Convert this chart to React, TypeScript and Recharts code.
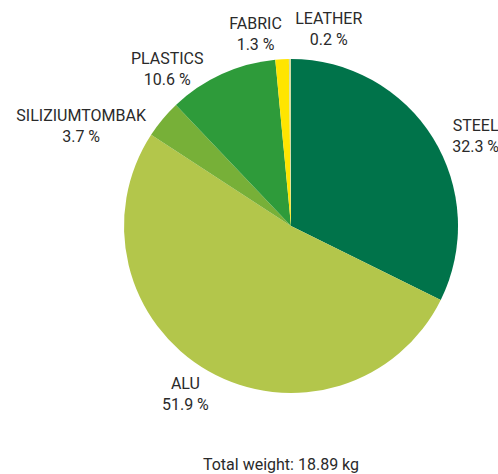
import { PieChart, Pie, Cell } from 'recharts';

const materials = ['STEEL', 'ALU', 'SILIZIUMTOMBAK', 'PLASTICS', 'FABRIC', 'LEATHER'];
const shares = [32.3, 51.9, 3.7, 10.6, 1.3, 0.2];
const colors = ['#00734a', '#b3c64b', '#77b038', '#2e9b3a', '#ffe500', '#d3dca6'];
const totalWeight = '18.89 kg';

const data = materials.map((name, i) => ({ name, value: shares[i] }));

// hand nudges so labels sit where the original puts them
const nudges: Record<string, [number, number]> = {
  STEEL: [19, 8],
  ALU: [-9, -6],
  SILIZIUMTOMBAK: [-60, 20],
  PLASTICS: [-43, 15],
  FABRIC: [-25, -2],
  LEATHER: [39, -7],
};

const RADIAN = Math.PI / 180;

const renderLabel = (props: any) => {
  const { cx, cy, midAngle, outerRadius, name, value } = props;
  const r = outerRadius + 28;
  const [dx, dy] = nudges[name] ?? [0, 0];
  const x = cx + r * Math.cos(-midAngle * RADIAN) + dx;
  const y = cy + r * Math.sin(-midAngle * RADIAN) + dy;
  return (
    <text x={x} y={y} textAnchor="middle" fill="#2a2a2a" fontSize={16} fontFamily="Roboto">
      <tspan x={x} y={y}>{name}</tspan>
      <tspan x={x} y={y + 21}>{value.toFixed(1)} %</tspan>
    </text>
  );
};

export default function App() {
  return (
    <div style={{ position: 'absolute', left: 0, top: 0, width: 498, height: 474, background: '#fff' }}>
      <PieChart width={498} height={474}>
        <Pie
          data={data}
          dataKey="value"
          nameKey="name"
          cx={286}
          cy={221}
          outerRadius={167}
          startAngle={90}
          endAngle={-270}
          stroke="none"
          label={renderLabel}
          labelLine={false}
          isAnimationActive={false}
        >
          {data.map((d, i) => (
            <Cell key={d.name} fill={colors[i]} />
          ))}
        </Pie>
        <text x={281} y={470} textAnchor="middle" fill="#2a2a2a" fontSize={16} fontFamily="Roboto">
          Total weight: {totalWeight}
        </text>
      </PieChart>
    </div>
  );
}
